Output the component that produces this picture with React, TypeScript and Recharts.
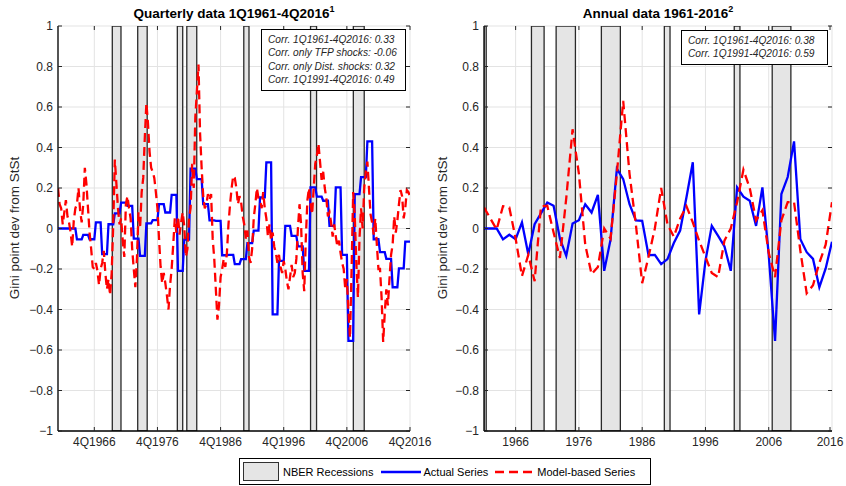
import React from 'react';
import { LineChart, Line, XAxis, YAxis, CartesianGrid, ReferenceArea } from 'recharts';

// Annual Gini deviations (right panel), 1961..2016
const years = [
  1961, 1962, 1963, 1964, 1965, 1966, 1967, 1968, 1969, 1970,
  1971, 1972, 1973, 1974, 1975, 1976, 1977, 1978, 1979, 1980,
  1981, 1982, 1983, 1984, 1985, 1986, 1987, 1988, 1989, 1990,
  1991, 1992, 1993, 1994, 1995, 1996, 1997, 1998, 1999, 2000,
  2001, 2002, 2003, 2004, 2005, 2006, 2007, 2008, 2009, 2010,
  2011, 2012, 2013, 2014, 2015, 2016,
];

const actualAnnual = [
  0, 0, 0, -0.054, -0.031, -0.053, 0.03, -0.127, 0.021, 0.075,
  0.128, 0.112, -0.05, -0.135, 0.025, 0.041, 0.12, 0.079, 0.166, -0.209,
  -0.055, 0.296, 0.244, 0.12, 0.04, 0.038, -0.132, -0.13, -0.176, -0.151,
  -0.072, -0.01, 0.154, 0.327, -0.424, -0.16, 0.013, -0.036, -0.088, -0.209,
  0.203, 0.157, 0.137, 0.013, 0.203, -0.13, -0.555, 0.17, 0.254, 0.43,
  -0.053, -0.117, -0.15, -0.29, -0.197, -0.065,
];

const modelAnnual = [
  0.104, 0.05, -0.005, 0.11, 0.104, -0.05, -0.235, -0.13, -0.26, 0.11,
  0.112, -0.02, -0.145, 0.15, 0.49, 0.27, -0.08, -0.226, -0.19, 0.0,
  -0.05, 0.27, 0.63, 0.27, 0.02, -0.27, -0.14, 0.0, 0.2, 0.02,
  -0.04, 0.05, 0.11, 0.03, -0.06, -0.14, -0.22, -0.24, -0.06, 0.0,
  0.13, 0.29, 0.2, 0.04, 0.09, -0.12, -0.24, 0.04, 0.13, 0.13,
  -0.11, -0.32, -0.28, -0.17, -0.08, 0.13,
];

// Model-based quarterly series (left panel), 1Q1961..4Q2016, one row per year
const modelQuarterly = [
  0.20, 0.12, 0.10, 0.02,
  0.08, 0.14, 0.06, 0.03,
  -0.02, -0.09, 0.04, 0.10,
  0.12, 0.20, 0.09, 0.03,
  0.12, 0.30, 0.22, 0.10,
  -0.02, -0.10, -0.19, -0.20,
  -0.17, -0.21, -0.28, -0.20,
  -0.17, -0.11, -0.22, -0.30,
  -0.25, -0.33, -0.22, 0.02,
  0.34, 0.22, 0.10, 0.02,
  0.05, -0.06, -0.14, 0.12,
  0.16, 0.10, 0.05, -0.10,
  -0.20, -0.29, -0.15, 0.08,
  0.00, 0.18, 0.25, 0.45,
  0.62, 0.52, 0.38, 0.30,
  0.28, 0.25, 0.18, 0.10,
  -0.05, -0.19, -0.27, -0.22,
  -0.27, -0.33, -0.40, -0.28,
  -0.20, -0.08, 0.05, -0.02,
  0.06, -0.03, 0.03, 0.08,
  0.01, -0.14, -0.10, 0.05,
  0.10, 0.32, 0.20, 0.55,
  0.68, 0.81, 0.47, 0.30,
  0.16, 0.10, 0.12, 0.17,
  0.14, 0.17, -0.05, -0.15,
  -0.30, -0.45, -0.38, -0.24,
  -0.20, -0.15, -0.19, -0.12,
  0.02, 0.12, 0.20, 0.26,
  0.25, 0.20, 0.12, 0.16,
  0.13, 0.06, 0.02, -0.05,
  -0.01, -0.14, -0.17, -0.10,
  0.05, 0.12, 0.20, 0.15,
  0.14, 0.10, 0.18, 0.10,
  0.05, -0.04, 0.02, -0.06,
  -0.02, -0.09, -0.12, -0.17,
  -0.13, -0.19, -0.22, -0.16,
  -0.20, -0.26, -0.30, -0.24,
  -0.18, -0.24, -0.22, -0.15,
  0.00, 0.12, 0.02, -0.22,
  -0.31, -0.05, 0.14, 0.20,
  0.12, 0.07, 0.20, 0.32,
  0.36, 0.42, 0.33, 0.24,
  0.28, 0.20, 0.15, 0.06,
  0.08, 0.03, -0.04, 0.02,
  -0.04, -0.09, -0.06, -0.12,
  -0.17, -0.20, -0.30, -0.25,
  -0.41, -0.54, -0.20, 0.18,
  0.06, -0.17, -0.34, -0.05,
  0.10, 0.00, 0.20, 0.28,
  0.33, 0.20, 0.07, 0.03,
  -0.03, 0.05, -0.08, -0.20,
  -0.20, -0.34, -0.56, -0.42,
  -0.30, -0.38, -0.25, -0.13,
  -0.08, 0.06, -0.02, 0.04,
  0.12, 0.19, 0.16, 0.05,
  0.10, 0.19, 0.18, 0.16,
];

const quarterTicks = [23, 63, 103, 143, 183, 223];
const quarterTickLabels = ['4Q1966', '4Q1976', '4Q1986', '4Q1996', '4Q2006', '4Q2016'];
const yearTicks = [1966, 1976, 1986, 1996, 2006, 2016];
const yTicks = [-1, -0.8, -0.6, -0.4, -0.2, 0, 0.2, 0.4, 0.6, 0.8, 1];

// NBER recessions, in quarter index (left) and year (right)
const quarterlyRecessions = [
  [34.4, 39.9], [50.5, 56.5], [75.6, 79.0], [81.6, 87.9],
  [117.7, 121.0], [160.0, 163.8], [187.1, 194.0],
];
const annualRecessions = [
  [1961, 1961.35], [1968.5, 1970.5], [1972.4, 1975.45], [1979.55, 1982.55],
  [1989.5, 1990.4], [2000.55, 2001.45], [2006.55, 2009.5],
];

const quarterlyCorr = [
  'Corr. 1Q1961-4Q2016: 0.33',
  'Corr. only TFP shocks: -0.06',
  'Corr. only Dist. shocks: 0.32',
  'Corr. 1Q1991-4Q2016: 0.49',
];
const annualCorr = ['Corr. 1Q1961-4Q2016: 0.38', 'Corr. 1Q1991-4Q2016: 0.59'];

const FONT = '"Liberation Sans", Arial, Helvetica, sans-serif';
const TOP = 26;
const BOTTOM = 431;
const INK = '#262626';

const quarterlyRows = modelQuarterly.map((m, i) => ({
  q: i,
  actual: actualAnnual[Math.floor(i / 4)],
  model: m,
}));
const annualRows = years.map((y, i) => ({ year: y, actual: actualAnnual[i], model: modelAnnual[i] }));

const fmtY = (v: number) => (v === 0 ? '0' : (v < 0 ? '\u2212' : '') + String(Math.abs(v)));

function Panel(props: any) {
  const { data, xKey, domain, ticks, labelOf, bands, plotLeft, plotRight, width, marginLeft, marginRight } = props;
  const yTick = (p: any) => (
    <g>
      <line x1={plotLeft} x2={plotLeft + 4} y1={p.y} y2={p.y} stroke={INK} />
      <line x1={plotRight - 4} x2={plotRight} y1={p.y} y2={p.y} stroke={INK} />
      <text x={plotLeft - 5} y={p.y} dy={4} textAnchor="end" fontSize={12} fill={INK} fontFamily={FONT}>
        {fmtY(p.payload.value)}
      </text>
    </g>
  );
  const xTick = (p: any) => (
    <g>
      <line x1={p.x} x2={p.x} y1={BOTTOM} y2={BOTTOM - 4} stroke={INK} />
      <line x1={p.x} x2={p.x} y1={TOP} y2={TOP + 4} stroke={INK} />
      <text x={p.x} y={BOTTOM + 15} textAnchor="middle" fontSize={12} fill={INK} fontFamily={FONT}>
        {labelOf(p.payload.value)}
      </text>
    </g>
  );
  return (
    <LineChart width={width} height={486} data={data}
      margin={{ top: TOP, right: marginRight, bottom: 25, left: marginLeft }}>
      <CartesianGrid stroke="#e3e3e3" strokeWidth={1} />
      <XAxis dataKey={xKey} type="number" domain={domain} ticks={ticks} allowDataOverflow
        height={30} tickLine={false} axisLine={{ stroke: '#000', strokeWidth: 1.3 }} tick={xTick} />
      <XAxis xAxisId="top" orientation="top" type="number" domain={domain} height={0}
        tick={false} tickLine={false} axisLine={{ stroke: '#000', strokeWidth: 1.3 }} />
      <YAxis type="number" domain={[-1, 1]} ticks={yTicks} allowDataOverflow width={40}
        tickLine={false} axisLine={{ stroke: '#000', strokeWidth: 1.3 }} tick={yTick} />
      <YAxis yAxisId="right" orientation="right" type="number" domain={[-1, 1]} width={0}
        tick={false} tickLine={false} axisLine={{ stroke: '#000', strokeWidth: 1.3 }} />
      {bands.map((b: number[], i: number) => (
        <ReferenceArea key={i} x1={b[0]} x2={b[1]} y1={-1} y2={1} fill="#e5e5e5" fillOpacity={1}
          stroke="#2a2a2a" strokeWidth={1.3} ifOverflow="hidden" />
      ))}
      <Line dataKey="actual" type="linear" stroke="#0000ff" strokeWidth={2.3} dot={false} isAnimationActive={false} />
      <Line dataKey="model" type="linear" stroke="#ff0000" strokeWidth={2.3} strokeDasharray="9 5"
        dot={false} isAnimationActive={false} />
    </LineChart>
  );
}

const abs = (s: any) => ({ position: 'absolute' as const, ...s });

function YLabel({ cx }: { cx: number }) {
  return (
    <div style={abs({ left: cx - 100, top: 228 - 10, width: 200, height: 20, lineHeight: '20px',
      textAlign: 'center', fontSize: 13.5, color: INK, transform: 'rotate(-90deg)' })}>
      Gini point dev from StSt
    </div>
  );
}

function CorrBox({ left, top, width, lines }: any) {
  return (
    <div style={abs({ left, top, width, background: '#fff', border: '1.2px solid #000',
      boxSizing: 'border-box', padding: '3px 0 3px 6px' })}>
      {lines.map((l: string) => (
        <div key={l} style={{ fontStyle: 'italic', fontSize: 10.2, lineHeight: '13.4px', color: INK, whiteSpace: 'nowrap' }}>{l}</div>
      ))}
    </div>
  );
}

export default function App() {
  return (
    <div style={abs({ left: 0, top: 0, width: 846, height: 486, background: '#fff', fontFamily: FONT, overflow: 'hidden' })}>
      <div style={abs({ left: 0, top: 0 })}>
        <Panel data={quarterlyRows} xKey="q" domain={[0, 223]} ticks={quarterTicks}
          labelOf={(v: number) => quarterTickLabels[quarterTicks.indexOf(v)]}
          bands={quarterlyRecessions} plotLeft={58} plotRight={410} width={445} marginLeft={18} marginRight={35} />
      </div>
      <div style={abs({ left: 423, top: 0 })}>
        <Panel data={annualRows} xKey="year" domain={[1961, 2016]} ticks={yearTicks}
          labelOf={(v: number) => String(v)}
          bands={annualRecessions} plotLeft={61} plotRight={409} width={423} marginLeft={21} marginRight={14} />
      </div>

      <div style={abs({ left: 58, top: 6, width: 352, textAlign: 'center', fontWeight: 'bold', fontSize: 13.5, color: '#000' })}>
        Quarterly data 1Q1961-4Q2016<span style={{ fontSize: 9, position: 'relative', top: -6 }}>1</span>
      </div>
      <div style={abs({ left: 484, top: 6, width: 348, textAlign: 'center', fontWeight: 'bold', fontSize: 13.5, color: '#000' })}>
        Annual data 1961-2016<span style={{ fontSize: 9, position: 'relative', top: -6 }}>2</span>
      </div>

      <YLabel cx={15} />
      <YLabel cx={443} />

      <CorrBox left={261} top={29} width={145} lines={quarterlyCorr} />
      <CorrBox left={681} top={30} width={147} lines={annualCorr} />

      <div style={abs({ left: 239, top: 458, width: 412, height: 27, border: '1.2px solid #000', boxSizing: 'border-box',
        background: '#fff', display: 'flex', alignItems: 'center', fontSize: 11, color: '#000' })}>
        <div style={{ width: 36, height: 19, marginLeft: 3, background: '#e5e5e5', border: '1.2px solid #303030', boxSizing: 'border-box' }} />
        <span style={{ marginLeft: 4 }}>NBER Recessions</span>
        <svg width={40} height={10} style={{ marginLeft: 8 }}>
          <line x1={0} x2={40} y1={5} y2={5} stroke="#0000ff" strokeWidth={2.3} />
        </svg>
        <span style={{ marginLeft: 2 }}>Actual Series</span>
        <svg width={40} height={10} style={{ marginLeft: 7 }}>
          <line x1={0} x2={40} y1={5} y2={5} stroke="#ff0000" strokeWidth={2.3} strokeDasharray="9 5" />
        </svg>
        <span style={{ marginLeft: 2 }}>Model-based Series</span>
      </div>
    </div>
  );
}
